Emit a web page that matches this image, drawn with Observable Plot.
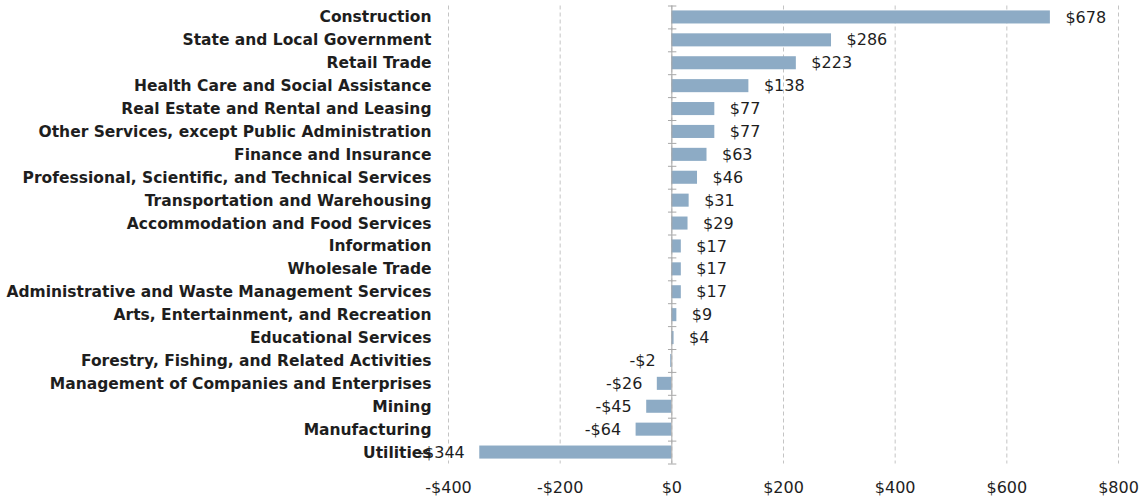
<!DOCTYPE html>
<html>
<head>
<meta charset="utf-8">
<script src="https://cdn.jsdelivr.net/npm/d3@7"></script>
<script src="https://cdn.jsdelivr.net/npm/@observablehq/plot@0.6"></script>
<style>
  html, body { margin: 0; padding: 0; background: #fff; }
  #chart svg { display: block; }
</style>
</head>
<body>
<div id="chart"></div>
<script>
const industries = [
  "Construction",
  "State and Local Government",
  "Retail Trade",
  "Health Care and Social Assistance",
  "Real Estate and Rental and Leasing",
  "Other Services, except Public Administration",
  "Finance and Insurance",
  "Professional, Scientific, and Technical Services",
  "Transportation and Warehousing",
  "Accommodation and Food Services",
  "Information",
  "Wholesale Trade",
  "Administrative and Waste Management Services",
  "Arts, Entertainment, and Recreation",
  "Educational Services",
  "Forestry, Fishing, and Related Activities",
  "Management of Companies and Enterprises",
  "Mining",
  "Manufacturing",
  "Utilities"
];
const values = [678, 286, 223, 138, 77, 77, 63, 46, 31, 29, 17, 17, 17, 9, 4, -2, -26, -45, -64, -344];
const xTicks = [-400, -200, 0, 200, 400, 600, 800];

const data = industries.map((name, i) => ({name, value: values[i]}));
const money = v => (v < 0 ? "-$" : "$") + Math.abs(v);

const chart = Plot.plot({
  width: 1143,
  height: 497,
  marginLeft: 448,
  marginRight: 25,
  marginTop: 5.5,
  marginBottom: 33.5,
  style: {fontFamily: "DejaVu Sans", color: "#1e1e1e", background: "#fff"},
  x: {domain: [-400, 800], ticks: xTicks, tickFormat: money, label: null},
  y: {domain: industries, paddingInner: 0.43, paddingOuter: 0.215, round: false, label: null},
  marks: [
    Plot.gridX(xTicks, {stroke: "#c4c4c4", strokeOpacity: 1, strokeDasharray: "4,3"}),
    Plot.barX(data, {x: "value", y: "name", fill: "#8dabc5"}),
    Plot.ruleX([0], {stroke: "#a8a8a8"}),
    Plot.ruleY(data, {y: "name", x1: -6, x2: 9, dy: -11.45, stroke: "#a8a8a8"}),
    Plot.ruleY(data.slice(-1), {y: "name", x1: -6, x2: 9, dy: 11.45, stroke: "#a8a8a8"}),
    Plot.text(data.filter(d => d.value >= 0), {x: "value", y: "name", text: d => money(d.value), textAnchor: "start", dx: 15, fontSize: 16, fill: "#1e1e1e"}),
    Plot.text(data.filter(d => d.value < 0), {x: "value", y: "name", text: d => money(d.value), textAnchor: "end", dx: -15, fontSize: 16, fill: "#1e1e1e"}),
    Plot.axisX({ticks: xTicks, tickFormat: money, tickSize: 0, tickPadding: 18, fontSize: 16, label: null}),
    Plot.axisY({tickSize: 0, tickPadding: 17, fontSize: 15.5, fontWeight: "bold", label: null})
  ]
});
document.getElementById("chart").appendChild(chart);
</script>
</body>
</html>
